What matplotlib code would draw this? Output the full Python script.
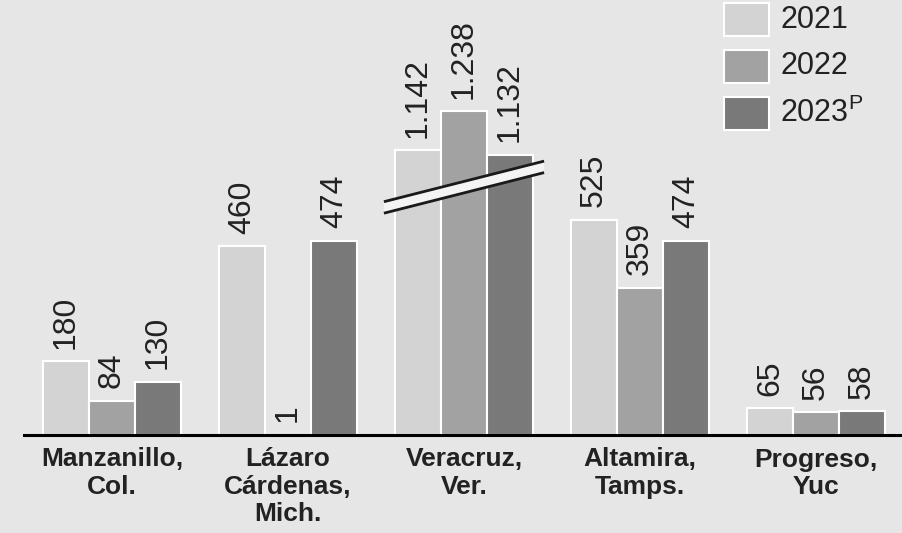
import matplotlib
matplotlib.use('Agg')
import matplotlib.pyplot as plt
from matplotlib.patches import Rectangle, Polygon
import numpy as np

plt.rcParams['font.family'] = ['Liberation Sans', 'DejaVu Sans']
plt.rcParams['mathtext.fontset'] = 'custom'
plt.rcParams['mathtext.rm'] = 'Liberation Sans'

ports = ['Manzanillo,\nCol.', 'Lázaro\nCárdenas,\nMich.', 'Veracruz,\nVer.',
         'Altamira,\nTamps.', 'Progreso,\nYuc']
years = ['2021', '2022', '2023$^{\\mathrm{P}}$']
v2021 = [180, 460, 1142, 525, 65]
v2022 = [84, 1, 1238, 359, 56]
v2023 = [130, 474, 1132, 474, 58]
labels2021 = ['180', '460', '1.142', '525', '65']
labels2022 = ['84', '1', '1.238', '359', '56']
labels2023 = ['130', '474', '1.132', '474', '58']

# Veracruz is drawn on a broken axis
broken = 2
break_offset = 448

bg = '#e6e6e6'
colors = ['#d3d3d3', '#a2a2a2', '#797979']
txt = '#222222'

fig = plt.figure(figsize=(9.02, 5.33), dpi=100, facecolor=bg)
ax = fig.add_axes([24 / 902, 98 / 533, 880 / 902, 435 / 533])
ax.set_facecolor(bg)

x = np.arange(len(ports))
w = 0.262
series = [(v2021, labels2021), (v2022, labels2022), (v2023, labels2023)]
for i, (vals, labs) in enumerate(series):
    heights = [v - break_offset if j == broken else v for j, v in enumerate(vals)]
    xs = x + (i - 1) * w
    ax.bar(xs, heights, width=w, color=colors[i], edgecolor='white', linewidth=1.5, zorder=2)
    for xi, h, lab in zip(xs, heights, labs):
        ax.annotate(lab, (xi, h), xytext=(0, 9), textcoords='offset points',
                    rotation=90, ha='center', va='bottom', fontsize=23, color=txt)

# break marker across the Veracruz group
bx = [1.545, 2.455]
top = [569, 668]
bot = [541, 640]
ax.add_patch(Polygon([(bx[0], bot[0]), (bx[1], bot[1]), (bx[1], top[1]), (bx[0], top[0])],
                     closed=True, facecolor='#f4f4f4', edgecolor='none', zorder=3))
ax.plot(bx, top, color='#1a1a1a', lw=2, zorder=4, solid_capstyle='butt')
ax.plot(bx, bot, color='#1a1a1a', lw=2, zorder=4, solid_capstyle='butt')

ax.set_xlim(-0.5, 4.5)
ax.set_ylim(0, 1061)
ax.set_xticks(x)
ax.set_xticklabels(ports, fontsize=19, fontweight='bold', color=txt, linespacing=1.18)
ax.tick_params(axis='x', length=0, pad=9)
ax.set_yticks([])
for s in ['top', 'right', 'left']:
    ax.spines[s].set_visible(False)
ax.spines['bottom'].set_linewidth(2.2)
ax.spines['bottom'].set_color('black')

# legend drawn by hand in figure pixels
for i, name in enumerate(years):
    top_px = 3 + i * 47
    fig.patches.append(Rectangle((724 / 902, 1 - (top_px + 33) / 533), 45 / 902, 33 / 533,
                                 transform=fig.transFigure, facecolor=colors[i],
                                 edgecolor='white', linewidth=1.5))
    fig.text(780 / 902, 1 - (top_px + 16.5) / 533, name, fontsize=22, color=txt,
             ha='left', va='center')

fig.savefig('out.png', dpi=100, facecolor=bg)
